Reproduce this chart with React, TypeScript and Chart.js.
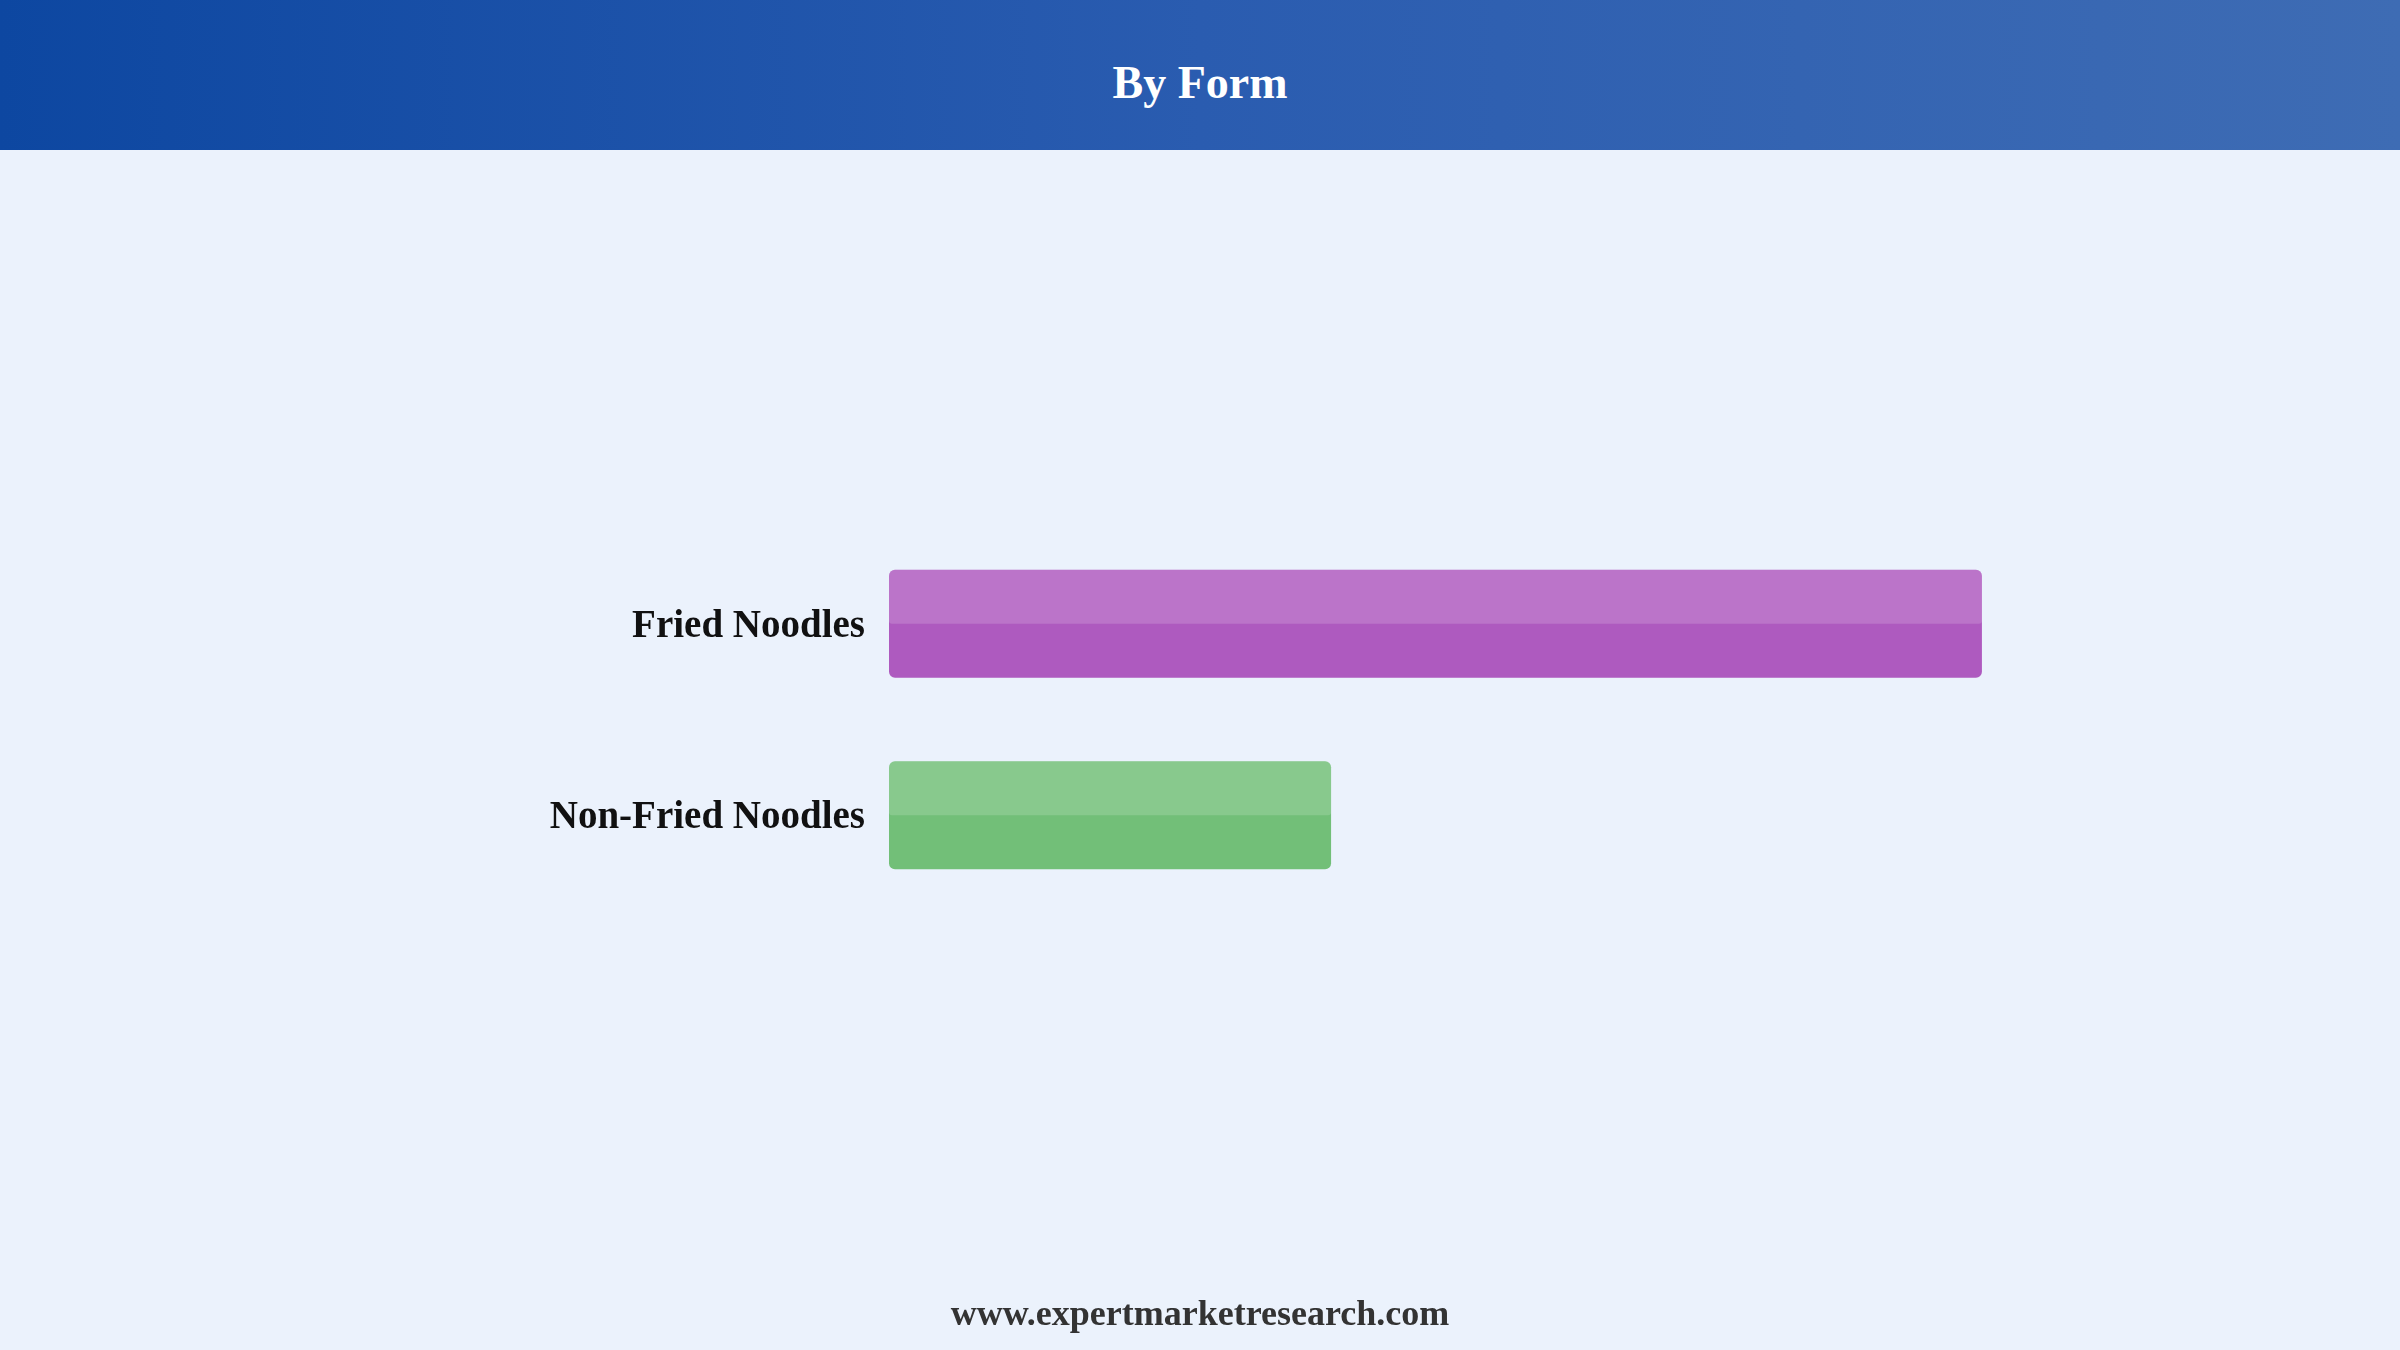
import React, { useEffect, useRef } from "react";
import { Chart, registerables } from "chart.js";

Chart.register(...registerables);

const titleText = "By Form";
const footerText = "www.expertmarketresearch.com";
const categories = ["Fried Noodles", "Non-Fried Noodles"];
const shareValues = [71.2, 28.8];
const barColors = ["#ae5abf", "#72bf78"];
const axisMax = 80;

const highlightPlugin = {
  id: "barHighlight",
  afterDatasetsDraw(chart: any) {
    const ctx = chart.ctx;
    const meta = chart.getDatasetMeta(0);
    ctx.save();
    meta.data.forEach((bar: any) => {
      const p = bar.getProps(["x", "y", "base", "height"], true);
      const left = Math.min(p.base, p.x);
      const w = Math.abs(p.x - p.base);
      const top = p.y - p.height / 2;
      ctx.fillStyle = "rgba(255,255,255,0.16)";
      ctx.beginPath();
      (ctx as any).roundRect(left, top, w, p.height / 2, [6, 6, 3, 3]);
      ctx.fill();
    });
    ctx.restore();
  },
};

export default function App() {
  const canvasRef = useRef<HTMLCanvasElement | null>(null);

  useEffect(() => {
    document.body.style.margin = "0";
    const canvas = canvasRef.current;
    if (!canvas) return;
    const chart = new Chart(canvas, {
      type: "bar",
      data: {
        labels: categories,
        datasets: [
          {
            data: shareValues,
            backgroundColor: barColors,
            borderWidth: 0,
            borderRadius: 6,
            borderSkipped: false,
            barPercentage: 0.564,
            categoryPercentage: 1,
          },
        ],
      },
      options: {
        indexAxis: "y",
        responsive: false,
        animation: false,
        devicePixelRatio: 1,
        layout: { padding: { top: 528, bottom: 439, left: 0, right: 283 } },
        plugins: {
          legend: { display: false },
          tooltip: { enabled: false },
          title: { display: false },
        },
        scales: {
          x: {
            display: false,
            min: 0,
            max: axisMax,
          },
          y: {
            grid: { display: false, drawTicks: false },
            border: { display: false },
            afterFit: (axis: any) => {
              axis.width = 889;
            },
            ticks: {
              padding: 24,
              labelOffset: 3,
              color: "#111111",
              font: { family: "'Liberation Serif', 'Times New Roman', serif", size: 39, weight: "bold" },
            },
          },
        },
      },
      plugins: [highlightPlugin],
    } as any);
    return () => chart.destroy();
  }, []);

  return (
    <div
      style={{
        position: "fixed",
        left: 0,
        top: 0,
        width: 2400,
        height: 1350,
        background: "#ebf2fc",
        overflow: "hidden",
        fontFamily: "'Liberation Serif', 'Times New Roman', serif",
      }}
    >
      <canvas
        ref={canvasRef}
        width={2400}
        height={1350}
        style={{ position: "absolute", left: 0, top: 0, width: 2400, height: 1350 }}
      />
      <div
        style={{
          position: "absolute",
          left: 0,
          top: 0,
          width: 2400,
          height: 150,
          background: "linear-gradient(90deg, #0d47a1 0%, #2a5cb0 50%, #3e6cb4 100%)",
        }}
      >
        <div
          style={{
            position: "absolute",
            left: 0,
            width: 2400,
            top: 60,
            textAlign: "center",
            color: "#ffffff",
            fontWeight: "bold",
            fontSize: 46,
            lineHeight: "46px",
          }}
        >
          {titleText}
        </div>
      </div>
      <div
        style={{
          position: "absolute",
          left: 0,
          width: 2400,
          top: 1295,
          textAlign: "center",
          color: "#333333",
          fontWeight: "bold",
          fontSize: 36,
          lineHeight: "36px",
        }}
      >
        {footerText}
      </div>
    </div>
  );
}
